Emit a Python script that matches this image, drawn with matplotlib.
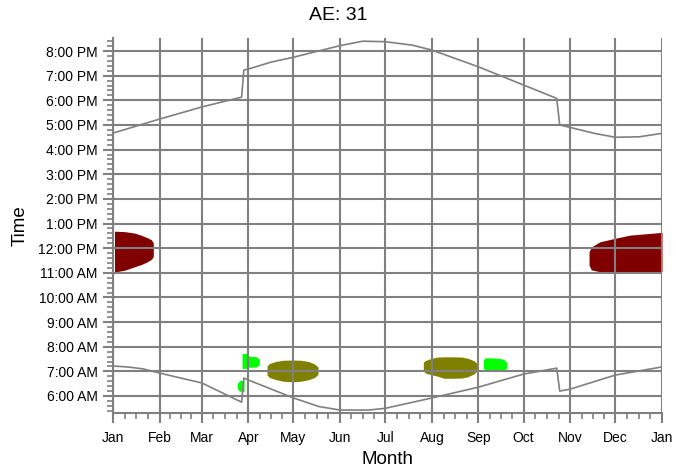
import matplotlib
matplotlib.use('Agg')
import matplotlib.pyplot as plt
from matplotlib.ticker import MultipleLocator, FuncFormatter, FixedLocator

plt.rcParams['font.family'] = ['Liberation Sans', 'DejaVu Sans']

# month starts (day of year) and labels
monthDays = [0, 31, 59, 90, 120, 151, 181, 212, 243, 273, 304, 334, 365]
monthLabels = ['Jan', 'Feb', 'Mar', 'Apr', 'May', 'Jun', 'Jul', 'Aug',
               'Sep', 'Oct', 'Nov', 'Dec', 'Jan']

# sunset / sunrise (hours of day)
sunsetDays = [0, 31, 59, 85.5, 87, 90, 105, 120, 151, 166, 181, 199, 212,
              243, 273, 295, 297, 304, 320, 334, 350, 365]
sunsetHours = [16.67, 17.24, 17.73, 18.13, 19.23, 19.27, 19.55, 19.75,
               20.22, 20.40, 20.38, 20.24, 20.04, 19.36, 18.62, 18.08,
               17.0, 16.90, 16.66, 16.50, 16.52, 16.66]

sunriseDays = [0, 11, 20, 31, 59, 85.5, 87, 90, 120, 137, 151, 170, 181,
               212, 243, 273, 295, 297, 304, 334, 365]
sunriseHours = [7.22, 7.17, 7.10, 6.93, 6.53, 5.75, 6.73, 6.65, 5.92, 5.57,
                5.43, 5.43, 5.50, 5.92, 6.36, 6.89, 7.13, 6.20, 6.28, 6.85,
                7.18]

# shadow regions: (days, lower hours, upper hours)
janDays = [1, 8, 14.6, 19, 23, 25.5, 26.8]
janLow = [11.03, 11.11, 11.25, 11.34, 11.45, 11.55, 11.66]
janHigh = [12.69, 12.67, 12.61, 12.52, 12.42, 12.34, 12.22]

decDays = [316.5, 318, 323.8, 333.8, 343.8, 365]
decLow = [11.31, 11.12, 11.04, 10.99, 11.02, 11.04]
decHigh = [11.85, 12.05, 12.26, 12.40, 12.53, 12.64]

springDays = [102.4, 104, 108, 113, 119, 125, 130, 134, 136.3]
springLow = [6.85, 6.75, 6.67, 6.60, 6.58, 6.60, 6.66, 6.75, 6.88]
springHigh = [7.22, 7.32, 7.40, 7.45, 7.46, 7.45, 7.40, 7.30, 7.18]

summerDays = [206.3, 208, 212, 216, 220, 226, 232, 236, 240, 241.8]
summerLow = [7.02, 6.92, 6.86, 6.80, 6.72, 6.72, 6.73, 6.78, 6.90, 7.0]
summerHigh = [7.37, 7.45, 7.53, 7.58, 7.59, 7.59, 7.58, 7.53, 7.43, 7.33]

greenADays = [85.8, 89.9, 90.0, 95.0, 97.3]
greenALow = [7.12, 7.12, 7.17, 7.17, 7.26]
greenAHigh = [7.73, 7.73, 7.62, 7.60, 7.50]

greenBDays = [82.6, 84, 87.1]
greenBLow = [6.30, 6.20, 6.17]
greenBHigh = [6.50, 6.62, 6.65]

greenCDays = [246.2, 247.5, 252, 258, 260.5, 261.8]
greenCLow = [7.12, 7.07, 7.05, 7.05, 7.08, 7.12]
greenCHigh = [7.45, 7.55, 7.55, 7.52, 7.45, 7.35]


def hourLabel(h, pos):
    hh = int(round(h)) % 24
    suffix = 'AM' if hh < 12 else 'PM'
    h12 = hh % 12
    if h12 == 0:
        h12 = 12
    return '%d:00 %s' % (h12, suffix)


gray = '#808080'
fig = plt.figure(figsize=(6.76, 4.75), dpi=100)
ax = fig.add_axes([113/676, 1 - 413/475, (662-113)/676, (413-38)/475])

for d, lo, hi, c in [(janDays, janLow, janHigh, '#800000'),
                     (decDays, decLow, decHigh, '#800000'),
                     (springDays, springLow, springHigh, '#808000'),
                     (summerDays, summerLow, summerHigh, '#808000'),
                     (greenADays, greenALow, greenAHigh, '#00ff00'),
                     (greenBDays, greenBLow, greenBHigh, '#00ff00'),
                     (greenCDays, greenCLow, greenCHigh, '#00ff00')]:
    ax.fill_between(d, lo, hi, color=c, lw=0, zorder=1)

ax.plot(sunsetDays, sunsetHours, color=gray, lw=1.2, zorder=3)
ax.plot(sunriseDays, sunriseHours, color=gray, lw=1.2, zorder=3)

ax.set_xlim(0, 365)
ax.set_ylim(5.31, 20.53)

ax.xaxis.set_major_locator(FixedLocator(monthDays))
ax.set_xticklabels(monthLabels)
minorX = []
for a, b in zip(monthDays[:-1], monthDays[1:]):
    minorX += [a + (b - a) * k / 4 for k in (1, 2, 3)]
ax.xaxis.set_minor_locator(FixedLocator(minorX))

ax.yaxis.set_major_locator(MultipleLocator(1))
ax.yaxis.set_minor_locator(MultipleLocator(0.2))
ax.yaxis.set_major_formatter(FuncFormatter(hourLabel))

ax.grid(True, which='major', color=gray, lw=1.5, zorder=2)
ax.set_axisbelow(False)
for s in ['top', 'right']:
    ax.spines[s].set_visible(False)
for s in ['left', 'bottom']:
    ax.spines[s].set_color(gray)
    ax.spines[s].set_linewidth(1.5)

ax.tick_params(which='major', length=7, width=1.5, color=gray,
               labelsize=10, pad=4)
ax.tick_params(which='minor', length=4, width=1.2, color=gray)
ax.tick_params(axis='x', which='major', pad=6)

ax.set_xlabel('Month', fontsize=13.5, labelpad=4)
ax.set_ylabel('Time', fontsize=13.5, labelpad=7)
fig.text(0.5, 1 - 15/475, 'AE: 31', ha='center', va='center', fontsize=14)

fig.savefig('out.png', dpi=100)
